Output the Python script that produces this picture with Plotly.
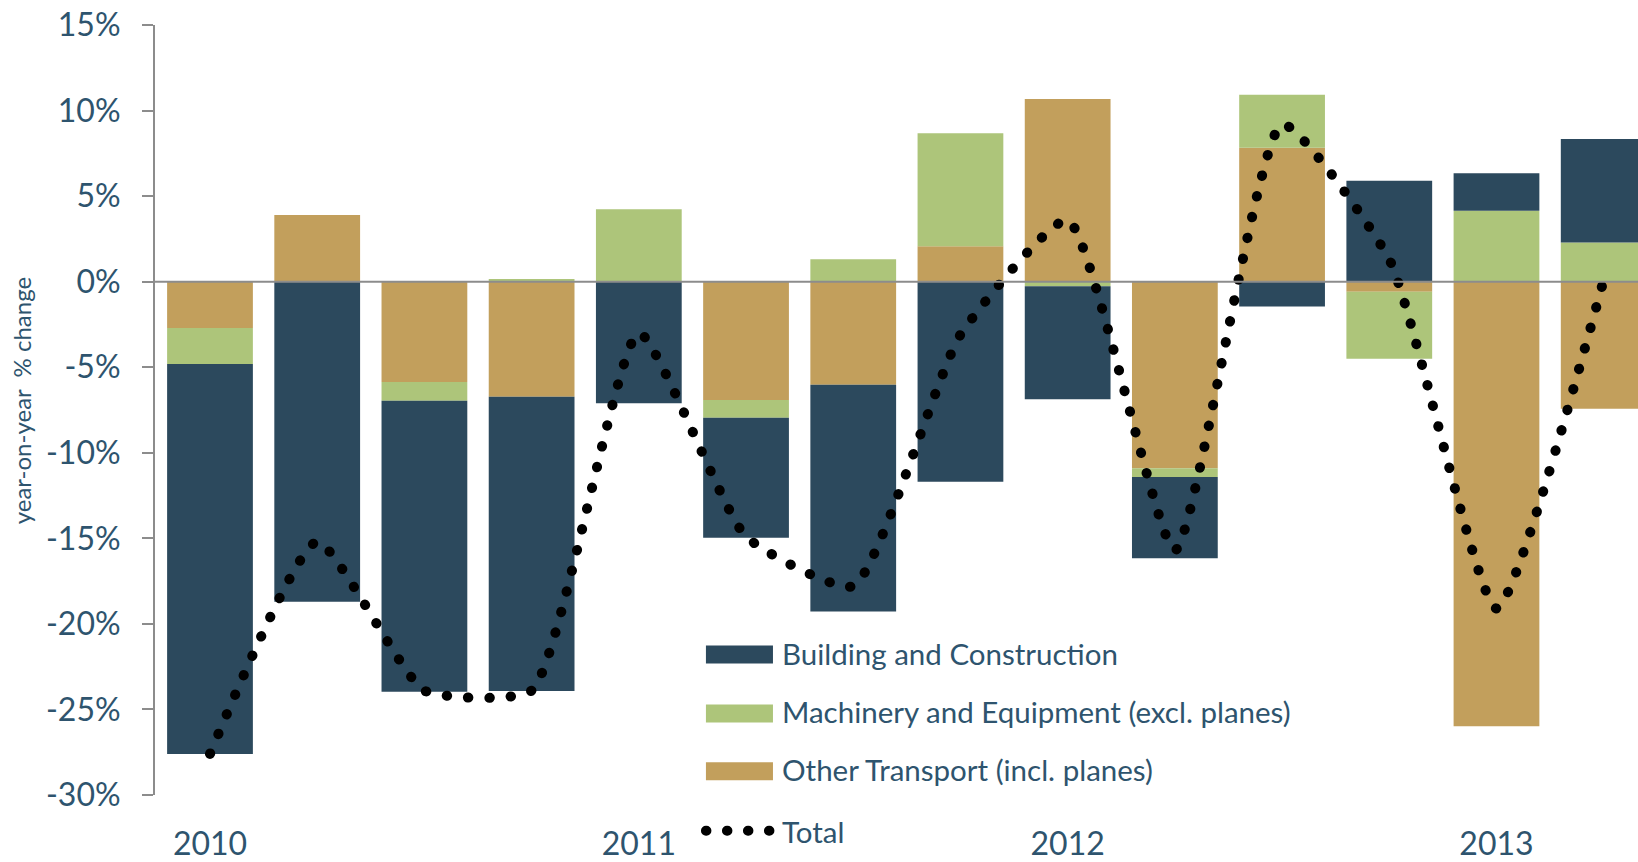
import plotly.graph_objects as go

# Quarterly year-on-year % change in investment, by component
quarters = ["2010 Q1", "2010 Q2", "2010 Q3", "2010 Q4",
            "2011 Q1", "2011 Q2", "2011 Q3", "2011 Q4",
            "2012 Q1", "2012 Q2", "2012 Q3", "2012 Q4",
            "2013 Q1", "2013 Q2"]
building = [-22.8, -18.7, -17.0, -17.2, -7.1, -7.0, -13.25, -11.7,
            -6.6, -4.75, -1.45, 5.9, 2.2, 6.05]
machinery = [-2.1, 0.0, -1.1, 0.16, 4.23, -1.05, 1.31, 6.6,
             -0.27, -0.52, 3.09, -3.91, 4.14, 2.29]
other_transport = [-2.71, 3.9, -5.86, -6.72, 0.0, -6.91, -6.02, 2.07,
                   10.68, -10.9, 7.83, -0.59, -25.98, -7.42]
total = [-27.6, -15.2, -23.9, -23.9, -3.0, -14.9, -17.8, -3.1,
         3.6, -15.7, 9.2, 1.3, -19.1, 0.1]

year_ticks = ["2010 Q1", "2011 Q1", "2012 Q1", "2013 Q1"]
year_labels = ["2010", "2011", "2012", "2013"]
y_ticks = [15, 10, 5, 0, -5, -10, -15, -20, -25, -30]
y_labels = ["15%", "10%", "5%", "0%", "-5%", "-10%", "-15%", "-20%", "-25%", "-30%"]

C_BUILD = "#2C495D"
C_MACH = "#ADC57A"
C_OTHER = "#C29F5C"
TEXT = "#2E546E"
AXIS = "#8C8C8C"
FONT = "Lato"

fig = go.Figure()
# stacking order: first trace sits next to zero
fig.add_trace(go.Bar(x=quarters, y=other_transport, name="Other Transport (incl. planes)",
                     marker=dict(color=C_OTHER, line=dict(width=0))))
fig.add_trace(go.Bar(x=quarters, y=machinery, name="Machinery and Equipment (excl. planes)",
                     marker=dict(color=C_MACH, line=dict(width=0))))
fig.add_trace(go.Bar(x=quarters, y=building, name="Building and Construction",
                     marker=dict(color=C_BUILD, line=dict(width=0))))
fig.add_trace(go.Scatter(x=quarters, y=total, name="Total", mode="lines",
                         line=dict(color="black", width=10, dash="0.5px,20.8px",
                                   shape="spline", smoothing=0.5)))

# zero reference line
fig.add_shape(type="line", xref="paper", x0=0, x1=1, yref="y", y0=0, y1=0,
              line=dict(color=AXIS, width=2), layer="above")

# legend drawn as swatches + labels
legend_items = [
    ("Building and Construction", C_BUILD, 0.1707, 0.1940),
    ("Machinery and Equipment (excl. planes)", C_MACH, 0.0942, 0.1175),
    ("Other Transport (incl. planes)", C_OTHER, 0.0191, 0.0424),
]
sw_x0, sw_x1, txt_x = 0.3715, 0.4167, 0.4215
for label, col, y0, y1 in legend_items:
    fig.add_annotation(xref="paper", yref="paper", x=txt_x, y=(y0 + y1) / 2 + 0.002,
                       text=label, showarrow=False, xanchor="left", yanchor="middle",
                       font=dict(family=FONT, size=29.5, color=TEXT))
    fig.add_shape(type="rect", xref="paper", yref="paper", x0=sw_x0, x1=sw_x1, y0=y0, y1=y1,
                  fillcolor=col, line=dict(width=0), layer="above")
fig.add_shape(type="line", xref="paper", yref="paper", x0=0.3715, x1=0.4167, y0=-0.0464, y1=-0.0464,
              line=dict(color="black", width=10, dash="0.5px,20.5px"), layer="above")
fig.add_annotation(xref="paper", yref="paper", x=txt_x, y=-0.0468, text="Total",
                   showarrow=False, xanchor="left", yanchor="middle",
                   font=dict(family=FONT, size=29.5, color=TEXT))

# rotated axis title
fig.add_annotation(xref="paper", yref="paper", x=-0.090, y=0.512,
                   text="year-on-year  % change", textangle=-90, showarrow=False,
                   xanchor="center", yanchor="middle",
                   font=dict(family=FONT, size=24, color=TEXT))

fig.update_layout(
    width=1638, height=862,
    margin=dict(l=155, r=0, t=25, b=65),
    barmode="relative", bargap=0.2,
    plot_bgcolor="white", paper_bgcolor="white",
    showlegend=False,
    font=dict(family=FONT, color=TEXT),
    xaxis=dict(type="category", range=[-0.513, 13.32], showgrid=False, zeroline=False,
               showline=False, ticks="", tickmode="array", tickvals=year_ticks,
               ticktext=year_labels, tickfont=dict(family=FONT, size=32, color=TEXT),
               ticklabelstandoff=27),
    yaxis=dict(range=[-30, 15], showgrid=False, zeroline=False, showline=True,
               linecolor=AXIS, linewidth=2, ticks="outside", ticklen=11, tickwidth=2,
               tickcolor=AXIS, tickmode="array", tickvals=y_ticks, ticktext=y_labels,
               tickfont=dict(family=FONT, size=32, color=TEXT), ticklabelstandoff=15),
)

# render the dashed paths with round caps so the dotted lines show as round dots
post = """
var gd = document.getElementById('{plot_id}');
function roundDots() {
  gd.querySelectorAll('path').forEach(function (p) {
    var d = p.style.strokeDasharray;
    if (d && d !== 'none' && d !== '') { p.style.strokeLinecap = 'round'; }
  });
}
roundDots();
gd.on('plotly_afterplot', roundDots);
"""
fig.write_html("out.html", post_script=post)
